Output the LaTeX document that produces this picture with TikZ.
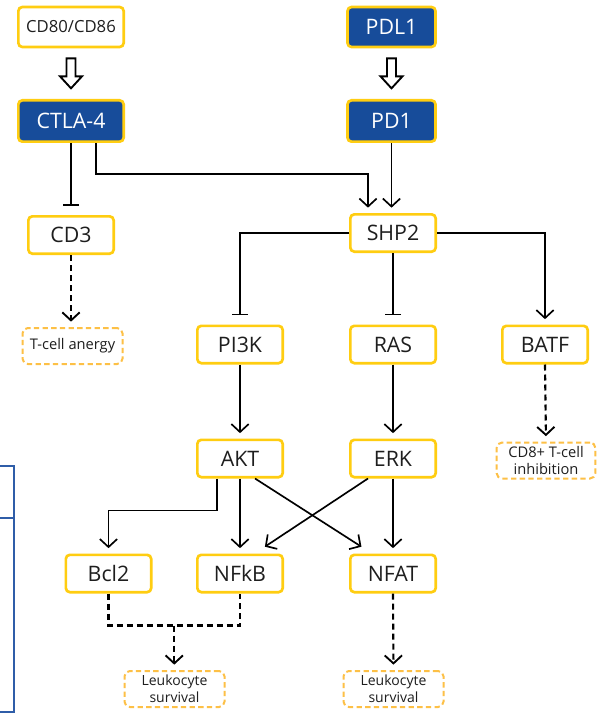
\documentclass[tikz,border=0pt]{standalone}
\usepackage{fontspec}
\setmainfont{Open Sans}
\usetikzlibrary{arrows.meta,calc}
\definecolor{bblue}{RGB}{23,76,154}
\definecolor{ybord}{RGB}{255,205,17}
\definecolor{obord}{RGB}{253,192,70}
\definecolor{frameblue}{RGB}{47,93,168}
\definecolor{txt}{RGB}{30,30,30}
\tikzset{
  box/.style={draw=ybord, line width=2pt, rounded corners=3pt, fill=white,
    minimum width=64pt, minimum height=28pt, inner sep=0pt, text=txt,
    font=\fontsize{16}{18}\selectfont},
  bluebox/.style={box, fill=bblue, text=white},
  outbox/.style={draw=obord, line width=1.5pt, dash pattern=on 4pt off 2.5pt,
    rounded corners=4pt, fill=white, minimum width=75pt, minimum height=27pt,
    inner sep=0pt, align=center, text=txt, font=\fontsize{11}{13}\selectfont},
  act/.style={line width=1.25pt, -{Straight Barb[length=6pt,width=13pt,line width=1.25pt]}, shorten >=4pt},
  inh/.style={line width=1.25pt, -{Bar[width=12pt,line width=1.25pt]}, shorten >=7pt},
  dashln/.style={line width=1.6pt, dash pattern=on 4.5pt off 3pt},
  dashact/.style={dashln, -{Straight Barb[length=6pt,width=13pt,line width=1.4pt]}, shorten >=4pt},
  hollow/.style={draw=black, line width=1.4pt, fill=white, line join=miter},
  blockarrow/.pic={\draw[hollow] (-4.5,0) -- (4.5,0) -- (4.5,18) -- (11,18) -- (0,30) -- (-11,18) -- (-4.5,18) -- cycle;}
}
\begin{document}
\begin{tikzpicture}[x=0.75pt,y=-0.75pt]
\fill[white] (0,0) rectangle (605,713);
\useasboundingbox (0,0) rectangle (605,713);
\clip (0,0) rectangle (605,713);

% left frame fragment
\draw[frameblue, line width=1.6pt] (-5,466) -- (14,466) -- (14,712) -- (-5,712);
\draw[frameblue, line width=1.6pt] (-5,518) -- (14,518);

% nodes
\node[box, minimum width=79pt, minimum height=30pt, font=\fontsize{12.5}{14}\selectfont] (CD80) at (71,27) {CD80/CD86};
\node[bluebox, minimum width=79pt, minimum height=31pt] (CTLA4) at (71,121) {CTLA-4};
\node[bluebox, minimum width=66pt, minimum height=30pt] (PDL1) at (391.5,27) {PDL1};
\node[bluebox, minimum width=66pt, minimum height=31pt] (PD1) at (391.5,121) {PD1};
\node[box] (SHP2) at (393,233) {SHP2};
\node[box] (CD3) at (71,235) {CD3};
\node[outbox] (Tcell) at (72.5,346) {T-cell anergy};
\node[box] (PI3K) at (240,344.5) {PI3K};
\node[box] (RAS) at (393,344.5) {RAS};
\node[box] (BATF) at (545,344.5) {BATF};
\node[box] (AKT) at (240,458.5) {AKT};
\node[box] (ERK) at (393,458.5) {ERK};
\node[outbox, minimum width=74pt] (CD8) at (546,460.5) {CD8+ T-cell\\inhibition};
\node[box] (Bcl2) at (108.5,573.5) {Bcl2};
\node[box] (NFkB) at (240,573.5) {NFkB};
\node[box] (NFAT) at (393,573.5) {NFAT};
\node[outbox, font=\fontsize{10.5}{13}\selectfont] (Leuk1) at (174.5,689) {Leukocyte\\survival};
\node[outbox, font=\fontsize{10.5}{13}\selectfont] (Leuk2) at (393.5,689) {Leukocyte\\survival};

% block arrows
\pic at ($(CD80.south)+(0,10)$) {blockarrow};
\pic at ($(PDL1.south)+(0,10)$) {blockarrow};

% connectors
\draw[inh] (CTLA4.south) -- (CD3.north);
\draw[act] ([xshift=18.75pt]CTLA4.south) -- ++(0,31) -| ([xshift=-18.75pt]SHP2.north);
\draw[act] (PD1.south) -- (PD1.south |- SHP2.north);
\draw[inh] (SHP2.west) -| (PI3K.north);
\draw[inh] (SHP2.south) -- (RAS.north);
\draw[act] (SHP2.east) -| (BATF.north);
\draw[act] (PI3K.south) -- (AKT.north);
\draw[act] (RAS.south) -- (ERK.north);
\draw[act] ([xshift=-17.25pt]AKT.south) -- ++(0,32) -| (Bcl2.north);
\draw[act] (AKT.south) -- (NFkB.north);
\draw[act, shorten >=2pt] ([xshift=11.25pt]AKT.south) -- ([xshift=11pt,yshift=4pt]NFAT.north west);
\draw[act, shorten >=2pt] ([xshift=-18.75pt]ERK.south) -- ([xshift=-16pt,yshift=4pt]NFkB.north east);
\draw[act] (ERK.south) -- (NFAT.north);

% dashed
\draw[dashact] (CD3.south) -- (CD3.south |- Tcell.north);
\draw[dashact] (BATF.south) -- (CD8.north);
\coordinate (mid) at ($(Bcl2.south)!0.5!(NFkB.south)+(0,32)$);
\draw[dashln] (Bcl2.south) |- (mid) -| (NFkB.south);
\draw[dashact] (mid) -- (mid |- Leuk1.north);
\draw[dashact] (NFAT.south) -- (Leuk2.north);
\end{tikzpicture}
\end{document}
